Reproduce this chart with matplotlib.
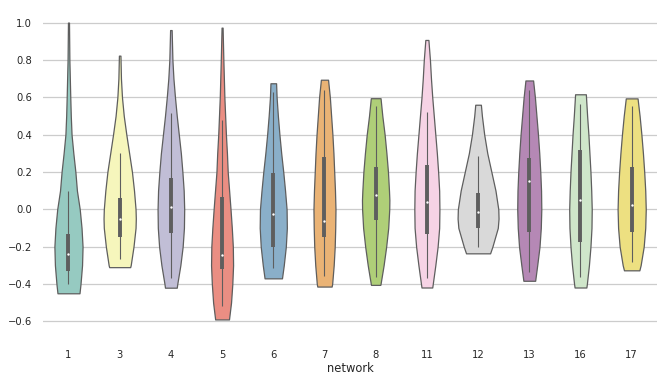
import numpy as np
import matplotlib
matplotlib.use("Agg")
import matplotlib.pyplot as plt
import colorsys

networks = ["1", "3", "4", "5", "6", "7", "8", "11", "12", "13", "16", "17"]

# violin outlines: y values and full width (x units)
ys = [
    [1.00, 0.80, 0.60, 0.50, 0.40, 0.30, 0.20, 0.10, 0.00, -0.10, -0.20, -0.30, -0.40, -0.45],
    [0.823, 0.70, 0.60, 0.50, 0.40, 0.30, 0.20, 0.10, 0.00, -0.05, -0.10, -0.20, -0.30, -0.31],
    [0.96, 0.80, 0.70, 0.60, 0.50, 0.40, 0.30, 0.20, 0.10, 0.00, -0.10, -0.20, -0.30, -0.40, -0.42],
    [0.973, 0.80, 0.60, 0.40, 0.30, 0.20, 0.00, -0.10, -0.20, -0.30, -0.40, -0.50, -0.59],
    [0.675, 0.60, 0.50, 0.40, 0.30, 0.20, 0.10, 0.00, -0.10, -0.20, -0.30, -0.37],
    [0.694, 0.60, 0.50, 0.40, 0.30, 0.20, 0.10, 0.00, -0.10, -0.20, -0.30, -0.40, -0.414],
    [0.595, 0.50, 0.40, 0.30, 0.20, 0.10, 0.05, 0.00, -0.10, -0.20, -0.30, -0.40, -0.405],
    [0.907, 0.80, 0.70, 0.60, 0.50, 0.40, 0.30, 0.20, 0.10, 0.00, -0.10, -0.20, -0.30, -0.40, -0.419],
    [0.56, 0.50, 0.40, 0.30, 0.20, 0.10, 0.00, -0.05, -0.10, -0.20, -0.236],
    [0.69, 0.60, 0.50, 0.40, 0.30, 0.20, 0.10, 0.00, -0.10, -0.20, -0.30, -0.383],
    [0.616, 0.50, 0.40, 0.30, 0.20, 0.10, 0.00, -0.10, -0.20, -0.30, -0.40, -0.419],
    [0.594, 0.50, 0.40, 0.30, 0.20, 0.10, 0.00, -0.10, -0.20, -0.30, -0.327],
]
widths = [
    [0.02, 0.035, 0.07, 0.09, 0.12, 0.19, 0.27, 0.33, 0.44, 0.51, 0.55, 0.53, 0.47, 0.43],
    [0.03, 0.05, 0.09, 0.16, 0.26, 0.37, 0.48, 0.56, 0.62, 0.63, 0.62, 0.54, 0.43, 0.41],
    [0.03, 0.06, 0.10, 0.16, 0.23, 0.31, 0.39, 0.45, 0.50, 0.52, 0.51, 0.46, 0.37, 0.25, 0.23],
    [0.02, 0.05, 0.09, 0.15, 0.19, 0.22, 0.33, 0.38, 0.42, 0.43, 0.40, 0.35, 0.27],
    [0.11, 0.13, 0.18, 0.24, 0.31, 0.39, 0.46, 0.52, 0.53, 0.49, 0.41, 0.34],
    [0.14, 0.21, 0.26, 0.31, 0.35, 0.38, 0.41, 0.43, 0.42, 0.40, 0.36, 0.30, 0.28],
    [0.19, 0.26, 0.35, 0.42, 0.48, 0.52, 0.535, 0.53, 0.49, 0.41, 0.31, 0.19, 0.18],
    [0.06, 0.12, 0.16, 0.21, 0.27, 0.33, 0.39, 0.44, 0.48, 0.49, 0.48, 0.42, 0.33, 0.23, 0.21],
    [0.11, 0.15, 0.24, 0.36, 0.52, 0.68, 0.79, 0.80, 0.77, 0.56, 0.47],
    [0.15, 0.22, 0.28, 0.34, 0.39, 0.43, 0.46, 0.47, 0.45, 0.40, 0.31, 0.23],
    [0.21, 0.26, 0.31, 0.35, 0.39, 0.42, 0.44, 0.43, 0.39, 0.33, 0.25, 0.23],
    [0.23, 0.31, 0.38, 0.44, 0.49, 0.53, 0.55, 0.53, 0.47, 0.35, 0.30],
]

# inner box: quartiles, median, whisker ends
q1 = [-0.33, -0.15, -0.128, -0.322, -0.20, -0.15, -0.058, -0.133, -0.099, -0.122, -0.176, -0.12]
q3 = [-0.13, 0.058, 0.17, 0.064, 0.196, 0.28, 0.224, 0.239, 0.085, 0.273, 0.317, 0.228]
med = [-0.24, -0.05, 0.01, -0.245, -0.025, -0.064, 0.074, 0.037, -0.017, 0.151, 0.048, 0.022]
wlo = [-0.40, -0.265, -0.367, -0.519, -0.317, -0.358, -0.362, -0.367, -0.20, -0.335, -0.365, -0.285]
whi = [0.10, 0.30, 0.514, 0.478, 0.626, 0.64, 0.553, 0.519, 0.285, 0.64, 0.562, 0.551]

set3 = ['#8dd3c7', '#ffffb3', '#bebada', '#fb8072', '#80b1d3', '#fdb462',
        '#b3de69', '#fccde5', '#d9d9d9', '#bc80bd', '#ccebc5', '#ffed6f']


def desat(c, p=0.75):
    r, g, b = matplotlib.colors.to_rgb(c)
    h, l, s = colorsys.rgb_to_hls(r, g, b)
    return colorsys.hls_to_rgb(h, l, s * p)


colors = [desat(c) for c in set3]
gray = (0.37, 0.37, 0.37)

fig = plt.figure(figsize=(6.7, 3.83), dpi=100)
ax = fig.add_axes([0.064, 0.127, 0.917, 0.853])

pos = np.arange(len(networks))
stats = []
for i in range(len(networks)):
    stats.append(dict(coords=ys[i], vals=widths[i], mean=med[i], median=med[i],
                      min=min(ys[i]), max=max(ys[i])))
vp = ax.violin(stats, positions=pos, widths=[max(w) for w in widths],
               showmeans=False, showextrema=False, showmedians=False)
for body, c in zip(vp["bodies"], colors):
    body.set_facecolor(c)
    body.set_edgecolor(gray)
    body.set_alpha(1)
    body.set_linewidth(0.9)
    body.set_zorder(2)

ax.vlines(pos, wlo, whi, color=gray, lw=0.8, zorder=3)
ax.vlines(pos, q1, q3, color=gray, lw=2.8, zorder=3)
ax.scatter(pos, med, s=3, color="white", zorder=4, linewidths=0)

ax.set_xlim(-0.5, 11.5)
ax.set_ylim(-0.67, 1.08)
ax.set_xticks(pos)
ax.set_xticklabels(networks)
ax.set_yticks(np.arange(-0.6, 1.01, 0.2))
ax.set_yticklabels([f"{v:.1f}".replace("-", "\u2212") for v in np.arange(-0.6, 1.01, 0.2)])
ax.grid(axis="y", color="#cccccc", lw=0.9)
ax.set_axisbelow(True)
for s in ax.spines.values():
    s.set_visible(False)
ax.tick_params(length=0, labelsize=7.2, colors="#262626")
ax.tick_params(axis="y", pad=8)
ax.tick_params(axis="x", pad=11)
ax.set_xlabel("network", fontsize=8.3, color="#262626", labelpad=2)

fig.savefig("out.png", dpi=100)
